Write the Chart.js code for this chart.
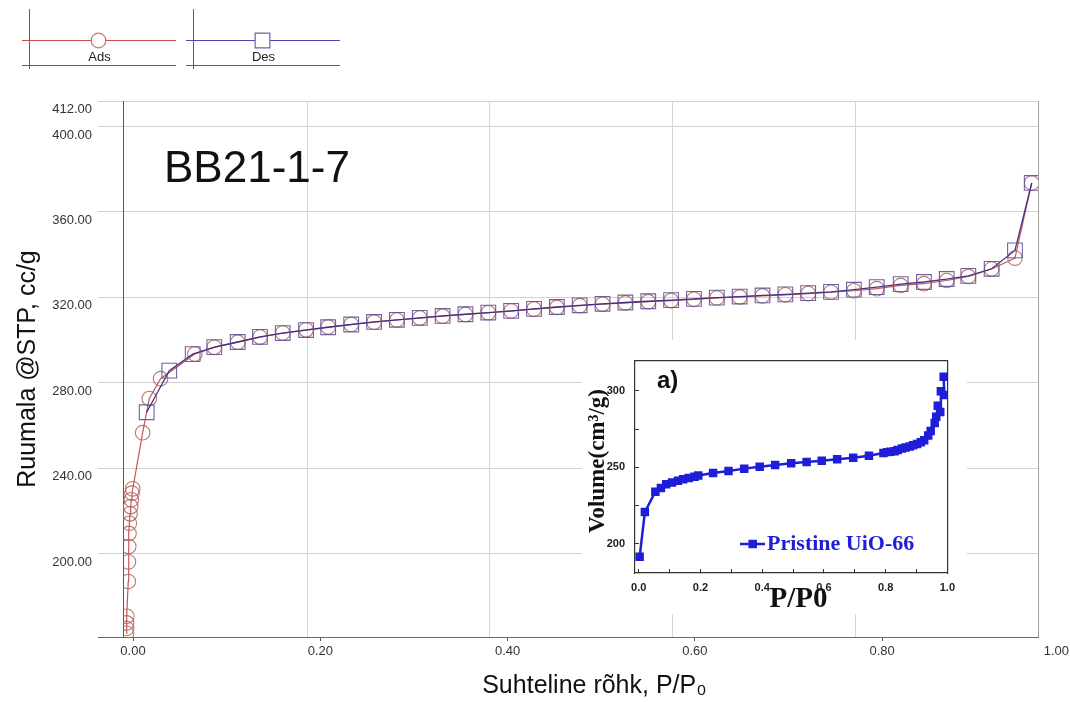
<!DOCTYPE html>
<html><head><meta charset="utf-8">
<script src="https://cdn.jsdelivr.net/npm/chart.js@4.4.1/dist/chart.umd.min.js"></script>
<style>
html,body{margin:0;padding:0;background:#fff;}
#wrap{position:relative;width:1070px;height:702px;overflow:hidden;background:#fff;}
#main{position:absolute;left:0;top:0;}
#inset{position:absolute;left:582px;top:340px;background:#fff;}
</style></head><body>
<div id="wrap"><canvas id="main" width="1070" height="702"></canvas><canvas id="inset" width="385" height="274"></canvas></div>
<script>
// ---------- data ----------
const seriesNames = ['Ads', 'Des'];
const adsP = [-0.0070,-0.0069,-0.0068,-0.0066,-0.0051,-0.0049,-0.0046,-0.0043,-0.0039,-0.0032,-0.0025,-0.0018,-0.0011,-0.0003,
  0.0103,0.0174,0.0294,0.0660,0.0868,0.1118,0.1356,0.1599,0.1848,0.2084,0.2330,0.2574,0.2818,0.3062,0.3306,0.3550,0.3794,
  0.4038,0.4282,0.4526,0.4770,0.5014,0.5258,0.5502,0.5746,0.5990,0.6234,0.6478,0.6722,0.6966,0.7210,0.7454,0.7698,0.7942,
  0.8198,0.8446,0.8689,0.8920,0.9169,0.9418,0.9597];
const adsV = [162.6,164.9,167.5,170.6,186.9,196.1,203.3,209.4,214.2,218.6,222.0,225.2,228.3,230.3,
  256.6,272.6,281.9,293.5,296.6,299.0,301.4,303.3,304.8,306.1,307.3,308.4,309.4,310.3,311.2,312.0,312.8,
  313.6,314.5,315.3,316.1,316.8,317.4,318.0,318.5,319.1,319.7,320.2,320.7,321.2,321.8,322.4,323.1,324.1,
  325.6,326.4,327.9,329.8,333.3,338.4,373.6];
const desP = [0.0146,0.0387,0.0637,0.0868,0.1118,0.1356,0.1599,0.1848,0.2084,0.2330,0.2574,0.2818,0.3062,0.3306,0.3550,0.3794,
  0.4038,0.4282,0.4526,0.4770,0.5014,0.5258,0.5502,0.5746,0.5990,0.6234,0.6478,0.6722,0.6966,0.7210,0.7454,0.7698,0.7942,
  0.8198,0.8446,0.8689,0.8920,0.9169,0.9418,0.9597];
const desV = [266.2,285.7,293.4,296.7,299.1,301.5,303.3,304.7,306.0,307.3,308.5,309.5,310.4,311.3,312.1,312.9,
  313.7,314.6,315.5,316.3,317.0,317.6,318.2,318.7,319.3,319.9,320.4,320.9,321.4,322.0,322.6,323.6,324.8,
  326.2,327.2,328.6,330.1,333.4,342.0,373.6];
const yTickValues = [200, 240, 280, 320, 360, 400, 412];
const xTickValues = [0, 0.2, 0.4, 0.6, 0.8, 1.0];
const xGridValues = [0.1858, 0.3812, 0.5766, 0.7720];

const insetName = 'Pristine UiO-66';
const insetP = [0.003,0.020,0.054,0.072,0.089,0.108,0.127,0.144,0.162,0.181,0.193,0.241,0.291,0.342,0.392,0.442,0.494,0.544,
  0.593,0.643,0.695,0.746,0.793,0.805,0.815,0.829,0.839,0.853,0.865,0.878,0.889,0.902,0.914,0.925,0.938,0.946,0.959,0.964,
  0.969,0.977,0.979,0.990,0.988];
const insetV = [191.4,220.7,234.0,236.4,238.9,240.1,241.1,242.1,242.9,243.8,244.6,246.2,247.6,249.1,250.3,251.5,252.6,253.4,
  254.2,255.2,256.2,257.5,259.3,259.9,260.1,260.5,261.3,262.2,263.0,263.6,264.4,265.2,266.3,267.7,270.8,273.8,278.9,283.0,
  290.2,286.1,299.8,297.3,309.2];
const insetXTicks = [0, 0.1, 0.2, 0.3, 0.4, 0.5, 0.6, 0.7, 0.8, 0.9, 1.0];
const insetXLabels = [0, 0.2, 0.4, 0.6, 0.8, 1.0];
const insetYTicks = [200, 225, 250, 275, 300];
const insetYLabels = [200, 250, 300];

// ---------- helpers ----------
const SANS = '"Liberation Sans", Arial, Helvetica, sans-serif';
const SERIF = '"Liberation Serif", "Times New Roman", serif';
Chart.defaults.font.family = SANS;
const toPts = (xs, ys) => xs.map((x, i) => ({ x: x, y: ys[i] }));
const near = (list, v) => list.some(t => Math.abs(t - v) < 1e-6);

const X_MIN = -0.0107, X_MAX = 0.9664, Y_MIN = 160.9, Y_MAX = 412;

function marker(ctx, style, r, x, y) {
  ctx.beginPath();
  if (style === 'rect') {
    const s = r * Math.SQRT1_2;
    ctx.rect(x - s, y - s, 2 * s, 2 * s);
  } else {
    ctx.arc(x, y, r, 0, Math.PI * 2);
  }
}

// legend boxes + annotation + clipped last tick label
const mainDecor = {
  id: 'mainDecor',
  afterDraw(chart) {
    const ctx = chart.ctx;
    ctx.save();
    const boxes = [22, 186];
    chart.data.datasets.forEach((ds, i) => {
      const L = boxes[i];
      ctx.lineWidth = 1;
      ctx.strokeStyle = '#5e5e5e';
      ctx.beginPath(); ctx.moveTo(L + 7.5, 9); ctx.lineTo(L + 7.5, 69); ctx.stroke();
      ctx.beginPath(); ctx.moveTo(L, 65.5); ctx.lineTo(L + 154, 65.5); ctx.stroke();
      ctx.strokeStyle = ds.legendLine;
      ctx.beginPath(); ctx.moveTo(L, 40.5); ctx.lineTo(L + 154, 40.5); ctx.stroke();
      const mx = L + 76.5;
      marker(ctx, ds.pointStyle, ds.pointRadius, mx, 40.5);
      ctx.fillStyle = '#fff'; ctx.fill();
      ctx.strokeStyle = ds.pointBorderColor; ctx.lineWidth = 1.2; ctx.stroke();
      ctx.fillStyle = '#222';
      ctx.font = '13px ' + SANS;
      ctx.textAlign = 'center'; ctx.textBaseline = 'middle';
      ctx.fillText(ds.label, mx + 1, 57);
    });
    // sample name
    ctx.fillStyle = '#111';
    ctx.font = '44px ' + SANS;
    ctx.textAlign = 'left'; ctx.textBaseline = 'alphabetic';
    ctx.fillText('BB21-1-7', 164, 182);
    // x tick labels beyond the axis end, kept inside the canvas
    const xs = chart.scales.x;
    ctx.font = '13px ' + SANS;
    ctx.fillStyle = '#333';
    ctx.textAlign = 'center'; ctx.textBaseline = 'middle';
    xTickValues.filter(v => v > X_MAX).forEach(v => {
      const lbl = v.toFixed(2);
      const half = ctx.measureText(lbl).width / 2;
      const px = Math.min(xs.getPixelForValue(v), chart.width - half - 1);
      ctx.fillText(lbl, px, xs.top + 4 + 3 + 7.8);
    });
    ctx.restore();
  }
};

new Chart(document.getElementById('main'), {
  type: 'line',
  data: {
    datasets: [
      { label: seriesNames[0], data: toPts(adsP, adsV), borderColor: 'rgba(190,70,70,0.9)', legendLine: '#cc4b4b',
        borderWidth: 1.2, pointStyle: 'circle', pointRadius: 7.3, pointBorderColor: 'rgba(176,96,92,0.85)',
        pointBackgroundColor: 'rgba(0,0,0,0)', pointBorderWidth: 1.1, order: 2, tension: 0 },
      { label: seriesNames[1], data: toPts(desP, desV), borderColor: 'rgba(58,40,135,0.95)', legendLine: '#4a48a8',
        borderWidth: 1.3, pointStyle: 'rect', pointRadius: 10.4, pointBorderColor: 'rgba(96,82,150,0.9)',
        pointBackgroundColor: 'rgba(0,0,0,0)', pointBorderWidth: 1.1, order: 1, tension: 0 }
    ]
  },
  options: {
    responsive: false, animation: false, devicePixelRatio: 1,
    layout: { padding: { top: 101, right: 32, bottom: 0, left: 0 } },
    plugins: { legend: { display: false }, tooltip: { enabled: false } },
    scales: {
      x: {
        type: 'linear', min: X_MIN, max: X_MAX,
        afterBuildTicks: s => {
          s.ticks = xTickValues.filter(v => v >= X_MIN && v <= X_MAX).concat(xGridValues, [X_MAX])
            .sort((a, b) => a - b).map(v => ({ value: v }));
        },
        afterFit: s => { s.height = 65; },
        ticks: { autoSkip: false, maxRotation: 0, padding: 3, color: '#333', font: { size: 13 },
          callback: v => near(xTickValues, v) ? Number(v).toFixed(2) : '' },
        grid: {
          lineWidth: 1, tickLength: 4,
          color: c => { const v = c.tick ? c.tick.value : null; if (v === null || near(xTickValues, v)) return 'rgba(0,0,0,0)'; return v === X_MAX ? '#a2a2a2' : '#d4d4d4'; },
          tickColor: c => { const v = c.tick ? c.tick.value : null; return (v !== null && near(xTickValues, v)) ? '#555' : 'rgba(0,0,0,0)'; }
        },
        border: { color: '#6a6a6a', width: 1 },
        title: { display: true, text: '    Suhteline rõhk, P/P₀', color: '#111', font: { size: 25, lineHeight: 1 }, padding: { top: 0, bottom: 3 } }
      },
      y: {
        type: 'linear', min: Y_MIN, max: Y_MAX,
        afterBuildTicks: s => { s.ticks = [Y_MIN].concat(yTickValues).map(v => ({ value: v })); },
        afterFit: s => { s.width = 123; },
        ticks: { autoSkip: false, padding: 6, labelOffset: 8.5, color: '#333', font: { size: 13 },
          callback: v => v === Y_MIN ? '' : Number(v).toFixed(2) },
        grid: {
          lineWidth: 1, tickLength: 25,
          color: c => (c.tick && c.tick.value === Y_MIN) ? 'rgba(0,0,0,0)' : '#d2d2d2',
          tickColor: c => (c.tick && c.tick.value === Y_MIN) ? '#6a6a6a' : '#cfcfcf'
        },
        border: { color: '#555', width: 1 },
        title: { display: true, text: 'Ruumala @STP, cc/g', color: '#111', font: { size: 25, lineHeight: 1 }, padding: { top: 16, bottom: 0 } }
      }
    }
  },
  plugins: [mainDecor]
});

// ---------- inset ----------
const insetDecor = {
  id: 'insetDecor',
  afterDraw(chart) {
    const ctx = chart.ctx;
    const ds = chart.data.datasets[0];
    ctx.save();
    ctx.fillStyle = '#111';
    ctx.font = 'bold 24px ' + SANS;
    ctx.textAlign = 'left'; ctx.textBaseline = 'alphabetic';
    ctx.fillText('a)', 75, 48);
    ctx.strokeStyle = ds.borderColor; ctx.lineWidth = 2.5;
    ctx.beginPath(); ctx.moveTo(158, 204); ctx.lineTo(183, 204); ctx.stroke();
    marker(ctx, 'rect', ds.pointRadius, 170.7, 204);
    ctx.fillStyle = ds.borderColor; ctx.fill();
    ctx.font = 'bold 22px ' + SERIF;
    ctx.fillText(ds.label, 185, 209.5);
    ctx.restore();
  }
};

new Chart(document.getElementById('inset'), {
  type: 'line',
  data: {
    datasets: [{ label: insetName, data: toPts(insetP, insetV), borderColor: '#1e1ed8', backgroundColor: '#1e1ed8',
      borderWidth: 2.5, pointStyle: 'rect', pointRadius: 6, pointBackgroundColor: '#1e1ed8', pointBorderColor: '#1e1ed8',
      pointBorderWidth: 0, tension: 0 }]
  },
  options: {
    responsive: false, animation: false, devicePixelRatio: 1,
    layout: { padding: { top: 7, right: 8, bottom: 0, left: 0 } },
    plugins: { legend: { display: false }, tooltip: { enabled: false } },
    scales: {
      x: {
        type: 'linear', min: -0.012, max: 1.0,
        afterBuildTicks: s => { s.ticks = insetXTicks.map(v => ({ value: v })); },
        afterFit: s => { s.height = 41; },
        ticks: { autoSkip: false, maxRotation: 0, padding: 12, color: '#222', font: { size: 11, weight: 'bold' },
          callback: v => near(insetXLabels, v) ? Number(v).toFixed(1) : '' },
        grid: { display: true, drawOnChartArea: false, drawTicks: true, tickLength: -4, tickColor: '#333', color: '#333' },
        border: { color: '#333', width: 1.2 },
        title: { display: true, text: '  P/P0', color: '#111', font: { family: SERIF, size: 29, weight: 'bold', lineHeight: 1 }, padding: { top: 0, bottom: 0 } }
      },
      y: {
        type: 'linear', min: 180.8, max: 319.8,
        afterBuildTicks: s => { s.ticks = insetYTicks.map(v => ({ value: v })); },
        afterFit: s => { s.width = 53; },
        ticks: { autoSkip: false, padding: 14, color: '#222', font: { size: 11, weight: 'bold' },
          callback: v => near(insetYLabels, v) ? String(v) : '' },
        grid: { display: true, drawOnChartArea: false, drawTicks: true, tickLength: -4, tickColor: '#333', color: '#333' },
        border: { color: '#333', width: 1.2 },
        title: { display: true, text: '  Volume(cm³/g)', color: '#111', font: { family: SERIF, size: 23, weight: 'bold', lineHeight: 1 }, padding: { top: 5, bottom: 0 } }
      },
      x2: { type: 'linear', position: 'top', display: true, ticks: { display: false }, grid: { display: false, drawTicks: false },
        border: { color: '#333', width: 1.2 }, afterFit: s => { s.height = 0; } },
      y2: { type: 'linear', position: 'right', display: true, ticks: { display: false }, grid: { display: false, drawTicks: false },
        border: { color: '#333', width: 1.2 }, afterFit: s => { s.width = 0; } }
    }
  },
  plugins: [insetDecor]
});
</script>
</body></html>
